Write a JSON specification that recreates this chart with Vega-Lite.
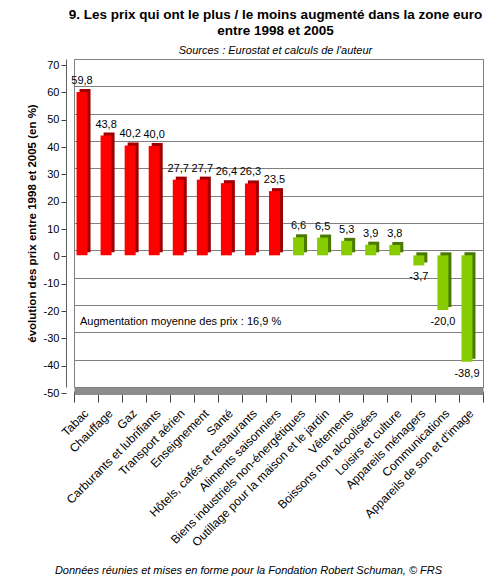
{
  "$schema": "https://vega.github.io/schema/vega-lite/v6.json",
  "width": 409,
  "height": 328,
  "autosize": {"type": "none"},
  "padding": {"left": 74, "top": 59, "right": 17, "bottom": 201},
  "title": {
    "text": ["9.  Les prix qui ont le plus / le moins augmenté dans la zone euro", "entre 1998 et 2005"],
    "subtitle": "Sources : Eurostat et calculs de l'auteur",
    "font": "Liberation Sans",
    "fontSize": 13.5,
    "fontWeight": "bold",
    "lineHeight": 16,
    "color": "black",
    "subtitleFont": "Liberation Sans",
    "subtitleFontSize": 11,
    "subtitleFontStyle": "italic",
    "subtitleColor": "black",
    "subtitlePadding": 8,
    "offset": 3,
    "anchor": "middle",
    "dx": -3
  },
  "data": {
    "values": [
      {"poste": "Tabac", "v": 59.8},
      {"poste": "Chauffage", "v": 43.8},
      {"poste": "Gaz", "v": 40.2},
      {"poste": "Carburants et lubrifiants", "v": 40.0},
      {"poste": "Transport aérien", "v": 27.7},
      {"poste": "Enseignement", "v": 27.7},
      {"poste": "Santé", "v": 26.4},
      {"poste": "Hôtels, cafés et restaurants", "v": 26.3},
      {"poste": "Aliments saisonniers", "v": 23.5},
      {"poste": "Biens industriels non-énergétiques", "v": 6.6},
      {"poste": "Outillage pour la maison et le jardin", "v": 6.5},
      {"poste": "Vêtements", "v": 5.3},
      {"poste": "Boissons non alcoolisées", "v": 3.9},
      {"poste": "Loisirs et culture", "v": 3.8},
      {"poste": "Appareils ménagers", "v": -3.7},
      {"poste": "Communications", "v": -20.0},
      {"poste": "Appareils de son et d'image", "v": -38.9}
    ]
  },
  "encoding": {
    "x": {
      "field": "poste",
      "type": "nominal",
      "sort": null,
      "scale": {"paddingInner": 0, "paddingOuter": 0},
      "axis": {
        "labelAngle": -45,
        "labelAlign": "right",
        "labelBaseline": "middle",
        "labelFont": "Liberation Sans",
        "labelFontSize": 12,
        "labelColor": "black",
        "labelLimit": 400,
        "labelPadding": 9,
        "tickBand": "extent",
        "tickOffset": -8,
        "tickSize": 11,
        "tickColor": "#404040",
        "domainColor": "#8c8c8c",
        "domainWidth": 7,
        "offset": 4,
        "title": "Données réunies et mises en forme pour la Fondation Robert Schuman, © FRS",
        "titleFont": "Liberation Sans",
        "titleFontSize": 11,
        "titleFontStyle": "italic",
        "titleFontWeight": "normal",
        "titleColor": "black",
        "titleX": 174,
        "titleY": 179,
        "titleBaseline": "middle"
      }
    }
  },
  "layer": [
    {
      "mark": {"type": "bar", "width": 11, "xOffset": -1, "yOffset": 2, "y2Offset": 2},
      "encoding": {
        "y": {
          "field": "v",
          "type": "quantitative",
          "scale": {"domain": [-50, 70], "nice": false},
          "axis": {
            "orient": "right",
            "values": [-50, -40, -30, -20, -10, 0, 10, 20, 30, 40, 50, 60, 70],
            "grid": true,
            "gridColor": "#808080",
            "labels": false,
            "ticks": false,
            "domain": false,
            "title": null
          }
        },
        "color": {"condition": {"test": "datum.v > 10", "value": "#a00000"}, "value": "#4a7800"}
      }
    },
    {
      "mark": {"type": "bar", "width": 11, "xOffset": -4, "yOffset": 5, "y2Offset": 5},
      "encoding": {
        "y": {
          "field": "v",
          "type": "quantitative",
          "scale": {"domain": [-50, 70], "nice": false},
          "axis": {
            "orient": "left",
            "values": [-50, -40, -30, -20, -10, 0, 10, 20, 30, 40, 50, 60, 70],
            "format": "d",
            "grid": false,
            "offset": 8,
            "tickOffset": 6,
            "tickSize": 5,
            "tickColor": "#404040",
            "domainColor": "#606060",
            "labelFont": "Liberation Sans",
            "labelFontSize": 11,
            "labelColor": "black",
            "labelPadding": 2,
            "title": "évolution des prix entre 1998 et 2005 (en %)",
            "titleFont": "Liberation Sans",
            "titleFontSize": 11.5,
            "titleFontWeight": "bold",
            "titleColor": "black",
            "titlePadding": 6
          }
        },
        "color": {"condition": {"test": "datum.v > 10", "value": "#ff0000"}, "value": "#86cc00"}
      }
    },
    {
      "transform": [{"filter": "datum.v > 0"}],
      "mark": {"type": "text", "xOffset": -4, "dy": -6, "font": "Liberation Sans", "fontSize": 11, "color": "black"},
      "encoding": {
        "y": {"field": "v", "type": "quantitative", "axis": null},
        "text": {"field": "v", "type": "quantitative", "format": ".1f"}
      }
    },
    {
      "transform": [{"filter": "datum.v < 0"}],
      "mark": {"type": "text", "xOffset": -4, "dy": 17, "font": "Liberation Sans", "fontSize": 11, "color": "black"},
      "encoding": {
        "y": {"field": "v", "type": "quantitative", "axis": null},
        "text": {"field": "v", "type": "quantitative", "format": ".1f"}
      }
    },
    {
      "data": {"values": [{"poste": "Tabac", "v": -26.2, "label": "Augmentation moyenne des prix : 16,9 %"}]},
      "mark": {"type": "text", "align": "left", "dx": -6, "font": "Liberation Sans", "fontSize": 11, "color": "black"},
      "encoding": {
        "y": {"field": "v", "type": "quantitative", "axis": null},
        "text": {"field": "label"}
      }
    }
  ],
  "resolve": {"scale": {"y": "shared"}, "axis": {"y": "independent"}},
  "config": {
    "view": {"stroke": "#808080"},
    "locale": {
      "number": {"decimal": ",", "thousands": " ", "grouping": [3], "currency": ["", " €"], "minus": "-"}
    }
  }
}
